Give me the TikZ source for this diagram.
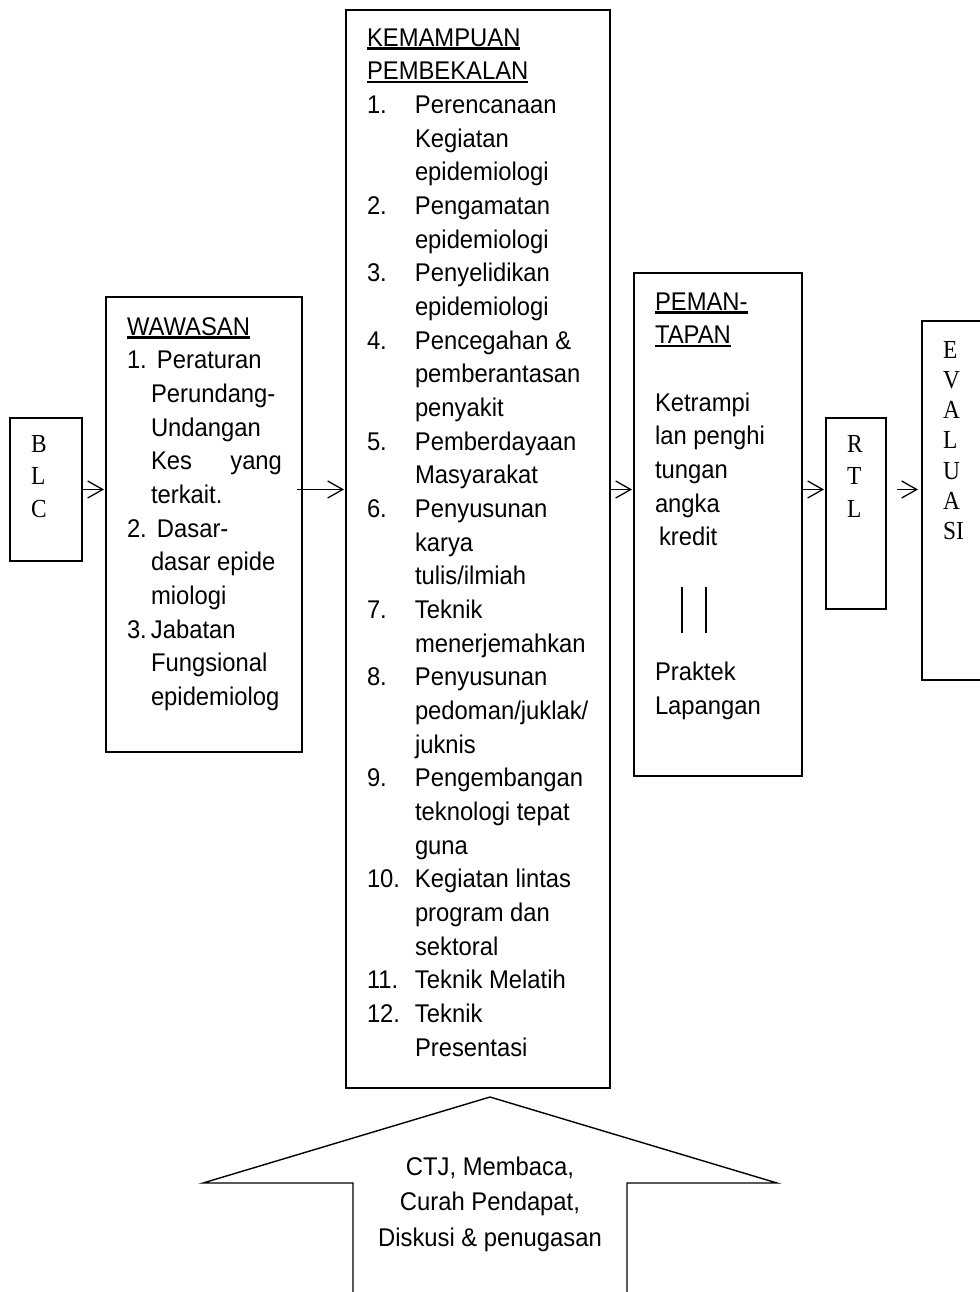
\documentclass[tikz,border=0pt]{standalone}
\usepackage{fontspec}
\setmainfont{Liberation Sans}[FakeStretch=0.93]
\newfontfamily\serifx{Liberation Serif}[FakeStretch=0.9]
\usetikzlibrary{arrows.meta,calc}
\newcommand\ulx[1]{\leavevmode\setbox0=\hbox{#1}\rlap{\rule[-3.5bp]{\wd0}{2.2bp}}\box0}
\newcommand\kitem[1]{\makebox[48bp][l]{#1}}
\newcommand\kind{\hspace*{48bp}}
\newcommand\fst{\rule{0pt}{20bp}}
\begin{document}
\begin{tikzpicture}[x=1bp,y=-1bp,
  box/.style={draw, line width=1.4bp, inner sep=0pt, outer sep=0pt, anchor=north west},
  txt/.style={inner sep=0pt, outer sep=0pt, align=left, anchor=north west,
    font=\fontsize{25.6bp}{33.67bp}\selectfont},
  vtxt/.style={inner sep=0pt, outer sep=0pt, align=left, anchor=north west,
    font=\serifx\fontsize{26bp}{32.7bp}\selectfont},
  arr/.style={line width=1.3bp, -{Straight Barb[length=15bp,width=17bp]}}]
\path[use as bounding box, fill=white] (0,0) rectangle (980,1292);
\clip (0,0) rectangle (980,1292);

% boxes
\node[box, minimum width=72bp, minimum height=143bp] (blc) at (10,418) {};
\node[box, minimum width=196bp, minimum height=455bp] (waw) at (106,297) {};
\node[box, minimum width=264bp, minimum height=1078bp] (kem) at (346,10) {};
\node[box, minimum width=168bp, minimum height=503bp] (pem) at (634,273) {};
\node[box, minimum width=60bp, minimum height=191bp] (rtl) at (826,418) {};
\node[box, minimum width=90bp, minimum height=359bp] (eval) at (922,321) {};

% texts
\node[vtxt] (blct) at (31,432) {\fst B\\L\\C};
\node[vtxt] (rtlt) at (847,432) {\fst R\\T\\L};
\node[vtxt, font=\serifx\fontsize{26bp}{30.3bp}\selectfont] (evalt) at (943,338) {\fst E\\V\\A\\L\\U\\A\\SI};

\node[txt] (wawt) at (127,315) {\fst\ulx{WAWASAN}\\
\makebox[30bp][l]{1.}Peraturan\\
\hspace*{24bp}Perundang-\\
\hspace*{24bp}Undangan\\
\hspace*{24bp}\makebox[131bp][s]{Kes yang}\\
\hspace*{24bp}terkait.\\
\makebox[30bp][l]{2.}Dasar-\\
\hspace*{24bp}dasar epide\\
\hspace*{24bp}miologi\\
\makebox[24bp][l]{3.}Jabatan\\
\hspace*{24bp}Fungsional\\
\hspace*{24bp}epidemiolog};

\node[txt] (kemt) at (367,26) {\fst\ulx{KEMAMPUAN}\\
\ulx{PEMBEKALAN}\\
\kitem{1.}Perencanaan\\
\kind Kegiatan\\
\kind epidemiologi\\
\kitem{2.}Pengamatan\\
\kind epidemiologi\\
\kitem{3.}Penyelidikan\\
\kind epidemiologi\\
\kitem{4.}Pencegahan \&\\
\kind pemberantasan\\
\kind penyakit\\
\kitem{5.}Pemberdayaan\\
\kind Masyarakat\\
\kitem{6.}Penyusunan\\
\kind karya\\
\kind tulis/ilmiah\\
\kitem{7.}Teknik\\
\kind menerjemahkan\\
\kitem{8.}Penyusunan\\
\kind pedoman/juklak/\\
\kind juknis\\
\kitem{9.}Pengembangan\\
\kind teknologi tepat\\
\kind guna\\
\kitem{10.}Kegiatan lintas\\
\kind program dan\\
\kind sektoral\\
\kitem{11.}Teknik Melatih\\
\kitem{12.}Teknik\\
\kind Presentasi};

\node[txt] (pemt) at (655,290) {\fst\ulx{PEMAN-}\\
\ulx{TAPAN}\\
\mbox{}\\
Ketrampi\\
lan penghi\\
tungan\\
angka\\
\hspace*{4bp}kredit\\
\mbox{}\\
\mbox{}\\
\mbox{}\\
Praktek\\
Lapangan};

\draw[line width=1.4bp] (682,587) -- (682,633);
\draw[line width=1.4bp] (706,587) -- (706,633);

% connectors
\draw[arr, shorten >=2bp] (blc.east) -- (waw.west |- blc.east);
\draw[arr, shorten >=2bp] ($(waw.east |- blc.east)+(-5,0)$) -- (kem.west |- blc.east);
\draw[arr, shorten >=2bp] (kem.east |- blc.east) -- (pem.west |- blc.east);
\draw[arr, shorten >=2bp] (pem.east |- blc.east) -- (rtl.west |- blc.east);
\draw[arr, shorten >=4bp] ($(rtl.east |- blc.east)+(11,0)$) -- (eval.west |- blc.east);

% bottom block arrow
\draw[line width=1.4bp, line join=miter] (353,1300) -- (353,1183) -- (203,1183) -- (490,1097)
  -- (777,1183) -- (627,1183) -- (627,1300);
\node[inner sep=0pt, outer sep=0pt, align=center, anchor=north,
  font=\fontsize{25.6bp}{35.5bp}\selectfont] (mtd) at (490,1155)
  {\fst CTJ, Membaca,\\ Curah Pendapat,\\Diskusi \& penugasan};
\end{tikzpicture}
\end{document}
